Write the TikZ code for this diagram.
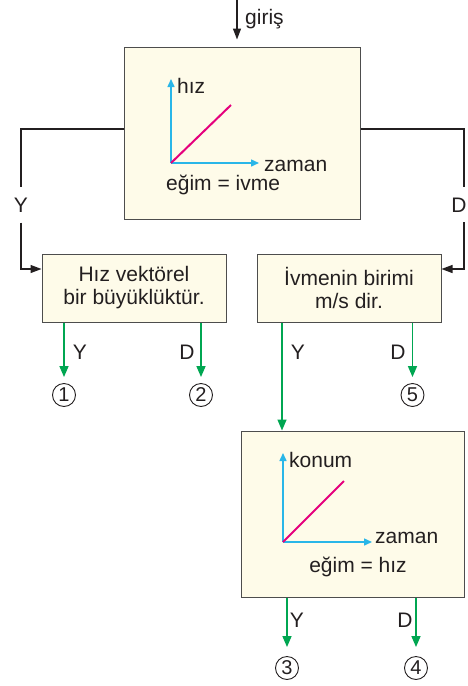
\documentclass[tikz,border=0pt]{standalone}
\usepackage{fontspec}
\setmainfont{Liberation Sans}
\usetikzlibrary{arrows.meta}
\definecolor{boxfill}{HTML}{FEFBE9}
\definecolor{boxdraw}{HTML}{4D4D4D}
\definecolor{ink}{HTML}{231F20}
\definecolor{grn}{HTML}{00A651}
\definecolor{cyn}{HTML}{29B6E8}
\definecolor{mag}{HTML}{E5007D}
\tikzset{
 box/.style={draw=boxdraw, fill=boxfill, line width=1pt, inner sep=0pt, align=center, font=\fontsize{21}{23}\selectfont, text=ink},
 lbl/.style={font=\fontsize{21}{24}\selectfont, text=ink, inner sep=1pt},
 blk/.style={draw=ink, line width=1.2pt, -{Triangle[length=11pt,width=8pt]}},
 blkline/.style={draw=ink, line width=1.2pt},
 garr/.style={draw=grn, line width=1.5pt, -{Triangle[length=11pt,width=9pt]}},
 axisarr/.style={draw=cyn, line width=1.5pt, -{Triangle[length=8pt,width=7pt]}},
 slope/.style={draw=mag, line width=2pt},
 num/.style={circle, draw=ink, line width=0.9pt, minimum size=23pt, inner sep=0pt, font=\fontsize{20}{20}\selectfont, text=ink},
}
\begin{document}
\begin{tikzpicture}[x=1pt,y=-1pt]
\useasboundingbox (0,0) rectangle (468,686);

% boxes
\node[box, minimum width=236pt, minimum height=172pt] (main) at (242,133) {};
\node[box, minimum width=184pt, minimum height=68pt] (b2) at (134,288) {Hız vektörel\\bir büyüklüktür.};
\node[box, minimum width=184pt, minimum height=68pt] (b3) at (349,288) {İvmenin birimi\\m/s dir.};
\node[box, minimum width=223pt, minimum height=166pt] (b4) at (352.5,514) {};

% entry
\coordinate (in) at (237,0);
\draw[blk] (in) -- ([yshift=7pt]main.north -| in);
\node[lbl, anchor=west] (giris) at (244,19) {giriş};

% graph in main box
\coordinate (o1) at (171,163);
\coordinate (v1) at (171,79);
\coordinate (h1) at (259,163);
\coordinate (m1) at (231,105);
\draw[axisarr] (o1) -- (v1);
\draw[axisarr] (o1) -- (h1);
\draw[slope] (o1) -- (m1);
\node[lbl, anchor=west] (hiz1) at (176,86) {hız};
\node[lbl, anchor=west] (zam1) at (263,166) {zaman};
\node[lbl, anchor=west] (egim1) at (165,185) {eğim = ivme};

% graph in box 4
\coordinate (o4) at (283,542);
\coordinate (v4) at (283,453);
\coordinate (h4) at (372,542);
\coordinate (m4) at (344,481);
\draw[axisarr] (o4) -- (v4);
\draw[axisarr] (o4) -- (h4);
\draw[slope] (o4) -- (m4);
\node[lbl, anchor=west] (konum) at (288,460) {konum};
\node[lbl, anchor=west] (zam4) at (374,538) {zaman};
\node[lbl] (egim4) at (358,567) {eğim = hız};

% left branch Y
\node[lbl, inner sep=0pt, minimum height=35pt] (YL) at (21,205) {Y};
\draw[blkline] ([yshift=4pt]main.west) -| (YL.north);
\draw[blk] (YL.south) |- ([yshift=19pt]b2.west);

% right branch D
\node[lbl, inner sep=0pt] (DR) at (459,205) {D};
\coordinate (dtop) at (464,187);
\coordinate (dbot) at (464,222);
\draw[blkline] ([yshift=4pt]main.east) -| (dtop);
\draw[blk] (dbot) |- ([yshift=19pt]b3.east);

% circled results
\node[num] (n1) at (64,395) {1};
\node[num] (n2) at (201,395) {2};
\node[num] (n5) at (412.5,395) {5};
\node[num] (n3) at (287,668) {3};
\node[num] (n4) at (416,668) {4};

% box 2 outputs
\draw[garr] (n1 |- b2.south) -- ([yshift=6pt]n1.north);
\draw[garr] (n2 |- b2.south) -- ([yshift=6pt]n2.north);
\node[lbl] (y2) at (80,352) {Y};
\node[lbl] (d2) at (187,352) {D};

% box 3 outputs
\draw[garr] ([xshift=-67pt]b3.south) -- ([xshift=-67pt]b3.south |- b4.north);
\draw[garr] (n5 |- b3.south) -- ([yshift=6pt]n5.north);
\node[lbl] (y3) at (298,352) {Y};
\node[lbl] (d3) at (398,352) {D};

% box 4 outputs
\draw[garr] (n3 |- b4.south) -- ([yshift=9pt]n3.north);
\draw[garr] (n4 |- b4.south) -- ([yshift=9pt]n4.north);
\node[lbl] (y4) at (297,620) {Y};
\node[lbl] (d4) at (405,620) {D};
\end{tikzpicture}
\end{document}
